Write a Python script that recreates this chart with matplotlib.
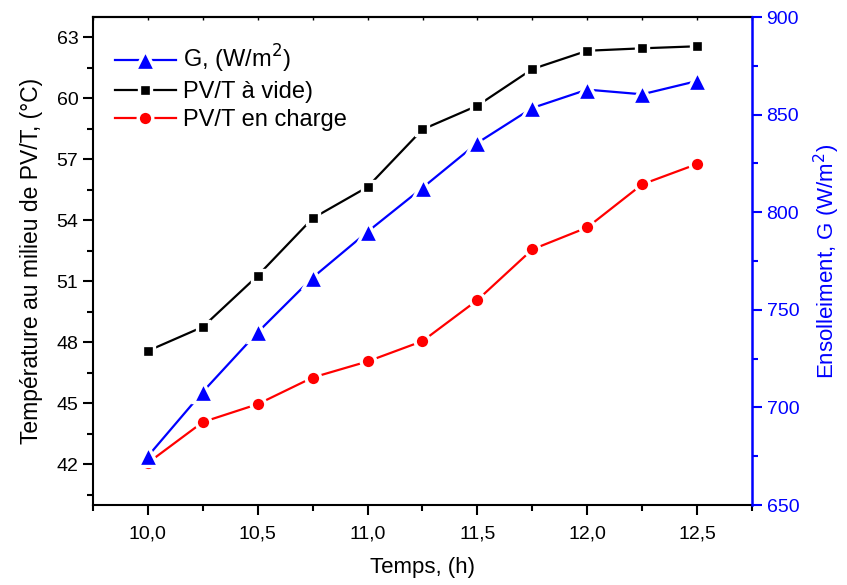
import matplotlib
matplotlib.use("Agg")
import matplotlib.pyplot as plt
from matplotlib.ticker import MultipleLocator, FuncFormatter

plt.rcParams['font.family'] = ['Liberation Sans', 'DejaVu Sans']

hours = [10.0, 10.25, 10.5, 10.75, 11.0, 11.25, 11.5, 11.75, 12.0, 12.25, 12.5]
t_vide = [47.58, 48.76, 51.28, 54.1, 55.64, 58.47, 59.64, 61.44, 62.34, 62.46, 62.56]
t_charge = [42.07, 44.08, 44.96, 46.27, 47.06, 48.06, 50.08, 52.57, 53.65, 55.77, 56.77]
g_irr = [675, 708, 738.5, 766.5, 790, 812.5, 835.5, 853.4, 862.8, 860.4, 867.2]

fig = plt.figure(figsize=(8.47, 5.85), dpi=100)
ax = fig.add_axes([93/847, 1-505/585, (752-93)/847, (505-17)/585])
ax2 = ax.twinx()

lw = 1.6
ln_v, = ax.plot(hours, t_vide, color='black', lw=lw, marker='s', ms=8.5,
                mfc='black', mec='white', mew=2.4, label='PV/T à vide)', zorder=3)
ln_c, = ax.plot(hours, t_charge, color='red', lw=lw, marker='o', ms=10.5,
                mfc='red', mec='white', mew=2.4, label='PV/T en charge', zorder=3)
ln_g, = ax2.plot(hours, g_irr, color='blue', lw=lw, marker='^', ms=14,
                 mfc='blue', mec='white', mew=2.4, label='G, (W/m$^2$)', zorder=3)

ax.set_xlim(9.75, 12.75)
ax.set_ylim(40, 64)
ax2.set_ylim(650, 900)

ax.xaxis.set_major_locator(MultipleLocator(0.5))
ax.xaxis.set_minor_locator(MultipleLocator(0.25))
ax.yaxis.set_major_locator(MultipleLocator(3))
ax.yaxis.set_minor_locator(MultipleLocator(1.5))
ax2.yaxis.set_major_locator(MultipleLocator(50))
ax2.yaxis.set_minor_locator(MultipleLocator(25))

ax.xaxis.set_major_formatter(FuncFormatter(lambda v, p: f"{v:.1f}".replace('.', ',')))

ax.tick_params(axis='x', which='major', direction='out', length=7, width=1.5,
               labelsize=14, top=False, pad=8)
ax.tick_params(axis='x', which='minor', direction='out', length=4, width=1.5, top=False)
ax.tick_params(axis='y', which='major', direction='out', length=7, width=1.5, labelsize=14)
ax.tick_params(axis='y', which='minor', direction='out', length=4, width=1.5)
ax2.tick_params(axis='y', which='major', direction='out', length=7, width=1.5,
                labelsize=14, colors='blue')
ax2.tick_params(axis='y', which='minor', direction='out', length=4, width=1.5, colors='blue')

secx = ax.secondary_xaxis('top')
secx.xaxis.set_major_locator(MultipleLocator(0.25))
secx.tick_params(direction='in', length=2, width=1, labeltop=False)
secx.spines['top'].set_linewidth(1.5)

for s in ['left', 'bottom', 'top']:
    ax.spines[s].set_linewidth(1.5)
for s in ['left', 'bottom', 'top']:
    ax2.spines[s].set_visible(False)
ax.spines['right'].set_visible(False)
ax2.spines['right'].set_color('blue')
ax2.spines['right'].set_linewidth(1.8)

ax.set_xlabel('Temps, (h)', fontsize=16, labelpad=10)
ax.set_ylabel('Température au milieu de PV/T, (°C)', fontsize=16.5, labelpad=10)
ax2.set_ylabel('Ensolleiment, G (W/m$^2$)', fontsize=16, color='blue', labelpad=9)

leg = ax.legend(handles=[ln_g, ln_v, ln_c], loc='upper left', frameon=False,
                fontsize=17, bbox_to_anchor=(0.008, 0.98), handlelength=2.6,
                handletextpad=0.3, labelspacing=0.25, borderaxespad=0.3)

fig.savefig('out.png', dpi=100)
